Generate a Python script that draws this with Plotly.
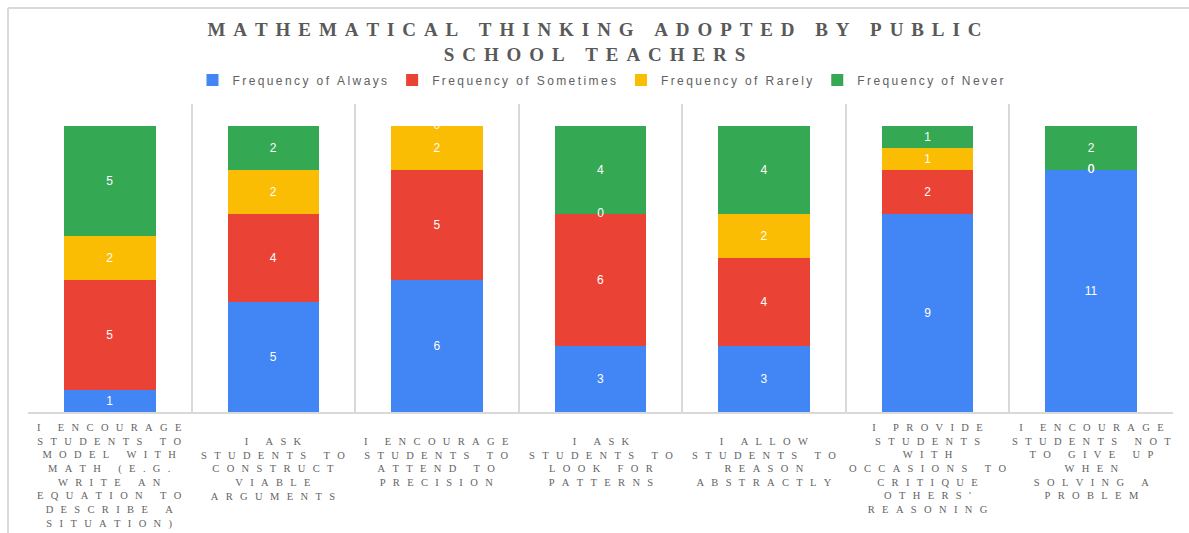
import plotly.graph_objects as go

categories = [
    "I ENCOURAGE STUDENTS TO MODEL WITH MATH (E.G. WRITE AN EQUATION TO DESCRIBE A SITUATION)",
    "I ASK STUDENTS TO CONSTRUCT VIABLE ARGUMENTS",
    "I ENCOURAGE STUDENTS TO ATTEND TO PRECISION",
    "I ASK STUDENTS TO LOOK FOR PATTERNS",
    "I ALLOW STUDENTS TO REASON ABSTRACTLY",
    "I PROVIDE STUDENTS WITH OCCASIONS TO CRITIQUE OTHERS' REASONING",
    "I ENCOURAGE STUDENTS NOT TO GIVE UP WHEN SOLVING A PROBLEM",
]
tick_lines = [
    ["I ENCOURAGE", "STUDENTS TO", "MODEL WITH", "MATH (E.G.", "WRITE AN", "EQUATION TO", "DESCRIBE A", "SITUATION)"],
    ["I ASK", "STUDENTS TO", "CONSTRUCT", "VIABLE", "ARGUMENTS"],
    ["I ENCOURAGE", "STUDENTS TO", "ATTEND TO", "PRECISION"],
    ["I ASK", "STUDENTS TO", "LOOK FOR", "PATTERNS"],
    ["I ALLOW", "STUDENTS TO", "REASON", "ABSTRACTLY"],
    ["I PROVIDE", "STUDENTS", "WITH", "OCCASIONS TO", "CRITIQUE", "OTHERS'", "REASONING"],
    ["I ENCOURAGE", "STUDENTS NOT", "TO GIVE UP", "WHEN", "SOLVING A", "PROBLEM"],
]
always = [1, 5, 6, 3, 3, 9, 11]
sometimes = [5, 4, 5, 6, 4, 2, 0]
rarely = [2, 2, 2, 0, 2, 1, 0]
never = [5, 2, 0, 4, 4, 1, 2]

title_lines = ["MATHEMATICAL THINKING ADOPTED BY PUBLIC", "SCHOOL TEACHERS"]
series_names = ["Frequency of Always", "Frequency of Sometimes", "Frequency of Rarely", "Frequency of Never"]
series_values = [always, sometimes, rarely, never]
colors = ["#4285F4", "#EA4335", "#FBBC04", "#34A853"]


def spaced(s, sep):
    return sep.join(list(s))


TICK_SEP = "\u2002\u2009"
TITLE_SEP = "\u2004\u200a"
LEG_SEP = "\u2009"

x = list(range(len(categories)))

fig = go.Figure()
base = [0] * len(x)
zero_x, zero_y = [], []
for name, vals, col in zip(series_names, series_values, colors):
    fig.add_trace(go.Bar(
        x=x, y=vals, name=spaced(name, LEG_SEP), marker=dict(color=col, line=dict(width=0)),
        text=[str(v) if v != 0 else "" for v in vals],
        textposition="inside", insidetextanchor="middle",
        textfont=dict(color="white", size=12, family="Liberation Sans, Arial"),
        width=0.56, hovertemplate=name + ": %{y}<extra></extra>",
    ))
    for i, v in enumerate(vals):
        if v == 0:
            zero_x.append(i)
            zero_y.append(base[i])
        base[i] += v

fig.add_trace(go.Scatter(
    x=zero_x, y=zero_y, mode="text", text=["0"] * len(zero_x),
    textfont=dict(color="white", size=12, family="Liberation Sans, Arial"),
    showlegend=False, hoverinfo="skip",
))

W, H = 1189, 533
L, R, T, B = 28, 16, 104, 121
pw, ph = W - L - R, H - T - B

annotations = []
for i, lines in enumerate(tick_lines):
    shift = -8 if len(lines) >= 6 else -22
    annotations.append(dict(
        x=i, xref="x", y=0, yref="paper", yanchor="top", xanchor="center", yshift=shift,
        text="<br>".join(spaced(l, TICK_SEP) for l in lines), showarrow=False, align="center",
        font=dict(family="Liberation Serif, Times New Roman, serif", size=10.5, color="#646464"),
    ))

fig.update_layout(
    width=W, height=H,
    barmode="stack",
    margin=dict(l=L, r=R, t=T, b=B, autoexpand=False),
    paper_bgcolor="white", plot_bgcolor="white",
    title=dict(
        text="<br>".join(spaced(t, TITLE_SEP) for t in title_lines),
        x=0.5, xanchor="center", y=1 - 36 / H, yanchor="top",
        font=dict(family="Liberation Serif, Times New Roman, serif", size=19, color="#595959", weight="bold"),
    ),
    legend=dict(
        orientation="h", x=0.5, xanchor="center", y=1 + (T - 80) / ph, yanchor="middle",
        font=dict(family="Liberation Sans, Arial", size=12, color="#616161"),
        itemwidth=30, traceorder="normal", bgcolor="rgba(0,0,0,0)",
    ),
    xaxis=dict(
        range=[-0.5, len(x) - 0.5], tickmode="array", tickvals=x, showticklabels=False,
        showgrid=False, zeroline=False, showline=True, linecolor="#d9d9d9", linewidth=2,
        ticks="", automargin=False,
        minor=dict(tickmode="linear", tick0=-0.5, dtick=1, showgrid=True, gridcolor="#d9d9d9", gridwidth=2),
        fixedrange=True,
    ),
    yaxis=dict(range=[0, 14], visible=False, showgrid=False, fixedrange=True, automargin=False),
    annotations=annotations,
    shapes=[
        dict(type="line", xref="paper", yref="paper", x0=(8 - L) / pw, x1=(W - L) / pw + 0.02,
             y0=1 + (T - 8) / ph, y1=1 + (T - 8) / ph, line=dict(color="#d9d9d9", width=2)),
        dict(type="line", xref="paper", yref="paper", x0=(8 - L) / pw, x1=(8 - L) / pw,
             y0=1 + (T - 8) / ph, y1=-B / ph - 0.05, line=dict(color="#d9d9d9", width=2)),
    ],
)

fig.write_html(
    "out.html",
    config={"displayModeBar": False},
    post_script="document.body.style.margin='0';document.body.style.overflow='hidden';",
)
